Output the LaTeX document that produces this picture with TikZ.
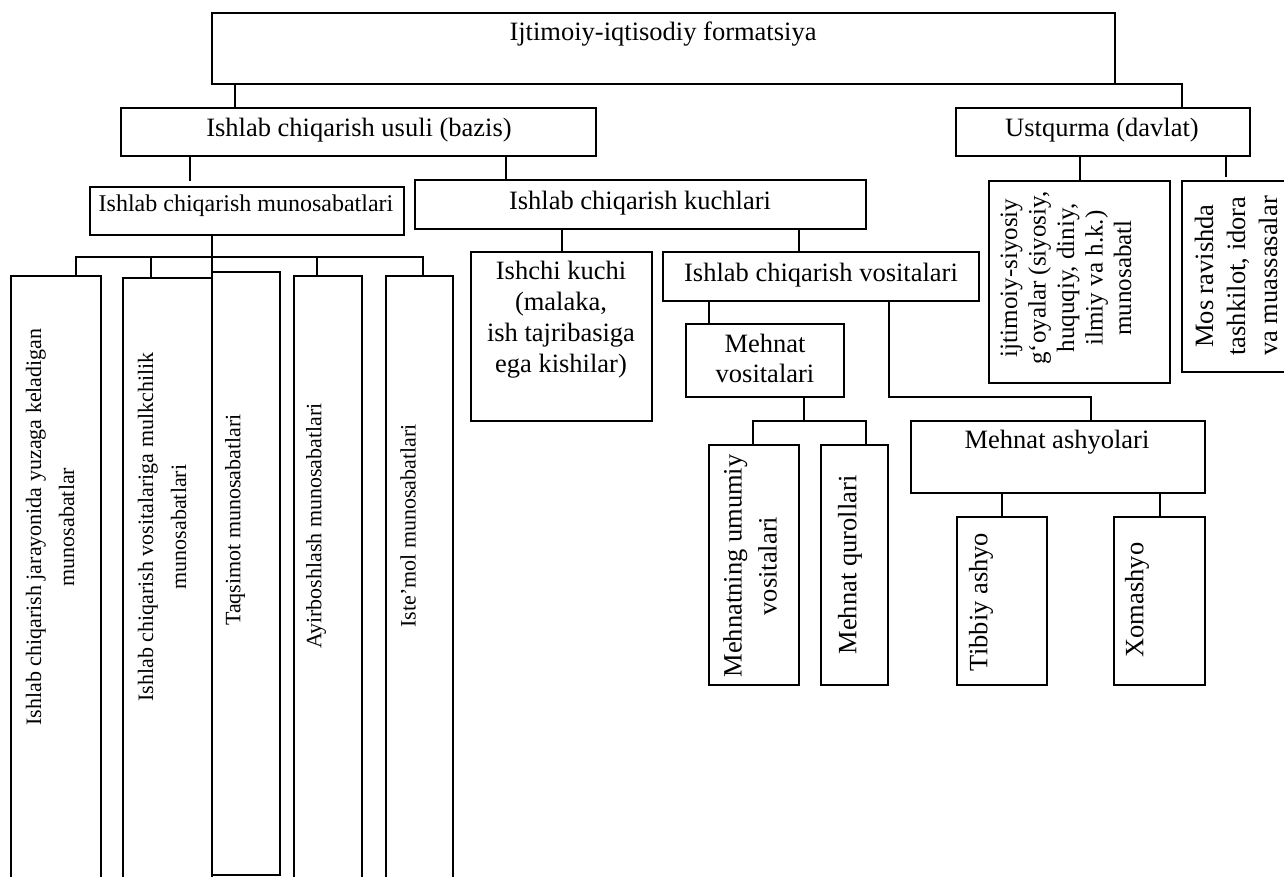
\documentclass[tikz,border=0pt]{standalone}
\usepackage{fontspec}
\setmainfont{Liberation Serif}
\tikzset{
 bx/.style={draw, line width=1pt, inner sep=0pt, outer sep=0pt, anchor=north west},
 ln/.style={line width=1pt},
 tx/.style={inner sep=0pt, align=center, font=\fontsize{13.25}{15.5}\selectfont},
 tvs/.style={inner sep=0pt, align=center, rotate=90, font=\fontsize{11}{16.5}\selectfont},
 tvb/.style={inner sep=0pt, align=center, rotate=90, font=\fontsize{13.25}{17.5}\selectfont},
}
\newcommand\mkbox[5]{\node[bx, minimum width={(#4-#2)*0.5pt}, minimum height={(#5-#3)*0.5pt}] (#1) at (#2,#3) {};}
\begin{document}
\begin{tikzpicture}[x=0.5pt,y=-0.5pt]
\useasboundingbox (0,0) rectangle (1284,877);
% boxes
\mkbox{top}{212}{13}{1115}{84}
\mkbox{usuli}{121}{108}{596}{156}
\mkbox{munos}{90}{187}{404}{235}
\mkbox{kuch}{415}{180}{866}{229}
\mkbox{ust}{956}{108}{1250}{156}
\mkbox{ijt}{989}{181}{1170}{383}
\mkbox{mos}{1182}{181}{1310}{372}
\mkbox{ishchi}{471}{252}{652}{421}
\mkbox{vos}{663}{252}{979}{301}
\mkbox{mvos}{686}{324}{844}{397}
\mkbox{ash}{911}{421}{1205}{493}
\mkbox{mum}{709}{445}{799}{685}
\mkbox{mq}{821}{445}{888}{685}
\mkbox{tib}{957}{517}{1047}{685}
\mkbox{xom}{1114}{517}{1205}{685}
\mkbox{b1}{11}{276}{101}{900}
\mkbox{b2}{123}{278}{212}{900}
\mkbox{b3}{212}{272}{280}{875}
\mkbox{b4}{294}{276}{362}{900}
\mkbox{b5}{386}{276}{453}{900}
% texts
\node[tx, anchor=base] (ttop) at (663,41) {Ijtimoiy-iqtisodiy formatsiya};
\node[tx, anchor=base] (tusuli) at (359,137) {Ishlab chiqarish usuli (bazis)};
\node[tx, anchor=base] (tkuch) at (640,210) {Ishlab chiqarish kuchlari};
\node[tx, anchor=base, font=\fontsize{12}{14}\selectfont] (tmunos) at (246,212) {Ishlab chiqarish munosabatlari};
\node[tx, anchor=base] (tust) at (1102,137) {Ustqurma (davlat)};
\node[tx] (tishchi) at (561,320) {Ishchi kuchi\\(malaka,\\ish tajribasiga\\ega kishilar)};
\node[tx, anchor=base] (tvos) at (821,281) {Ishlab chiqarish vositalari};
\node[tx, font=\fontsize{13.25}{15}\selectfont] (tmvos) at (765,358) {Mehnat\\vositalari};
\node[tx, anchor=base] (tash) at (1057,448) {Mehnat ashyolari};
\node[tvs] (tb1) at (50,527) {Ishlab chiqarish jarayonida yuzaga keladigan\\munosabatlar};
\node[tvs] (tb2) at (162,527) {Ishlab chiqarish vositalariga mulkchilik\\munosabatlari};
\node[tvs] (tb3) at (235,520) {Taqsimot munosabatlari};
\node[tvs] (tb4) at (316,526) {Ayirboshlash munosabatlari};
\node[tvs] (tb5) at (408,526) {Iste’mol munosabatlari};
\node[tvb] (tmum) at (750,566) {Mehnatning umumiy\\vositalari};
\node[tvb] (tmq) at (850,565) {Mehnat qurollari};
\node[tvb] (ttib) at (981,602) {Tibbiy ashyo};
\node[tvb] (txom) at (1137,600) {Xomashyo};
\node[tvb, font=\fontsize{12.5}{14.25}\selectfont] (tijt) at (1066,278) {ijtimoiy-siyosiy\\g‘oyalar (siyosiy,\\huquqiy, diniy,\\ilmiy va h.k.)\\munosabatl};
\node[tvb, font=\fontsize{13.25}{16}\selectfont] (tmos) at (1236,276) {Mos ravishda\\tashkilot, idora\\va muassasalar};
% connectors
\coordinate (bus) at (212,257);
\coordinate (j2) at (1091,397);
\coordinate (bus2) at (804,421);
\draw[ln] (top.south -| 235,0) -- (usuli.north -| 235,0);
\draw[ln] (top.south east) -| (ust.north -| 1182,0);
\draw[ln, shorten >=3pt] (usuli.south -| 190,0) -- (munos.north -| 190,0);
\draw[ln] (usuli.south -| 506,0) -- (kuch.north -| 506,0);
\draw[ln] (munos.south -| bus) -- (b2.north east);
\draw[ln] (b1.north -| 76,0) |- (bus) -| (b5.north -| 423,0);
\draw[ln] (bus -| 151,0) -- (b2.north -| 151,0);
\draw[ln] (bus -| 317,0) -- (b4.north -| 317,0);
\draw[ln] (kuch.south -| ishchi.north) -- (ishchi.north);
\draw[ln] (kuch.south -| 799,0) -- (vos.north -| 799,0);
\draw[ln] (vos.south -| 709,0) -- (mvos.north -| 709,0);
\draw[ln] (vos.south -| 889,0) |- (j2) -- (ash.north -| j2);
\draw[ln] (mvos.south -| bus2) -- (bus2);
\draw[ln] (mum.north -| 753,0) |- (bus2) -| (mq.north -| 866,0);
\draw[ln] (ash.south -| tib.north) -- (tib.north);
\draw[ln] (ash.south -| xom.north) -- (xom.north);
\draw[ln] (ust.south -| ijt.north) -- (ijt.north);
\draw[ln, shorten >=2pt] (ust.south -| 1226,0) -- (mos.north -| 1226,0);
\end{tikzpicture}
\end{document}
